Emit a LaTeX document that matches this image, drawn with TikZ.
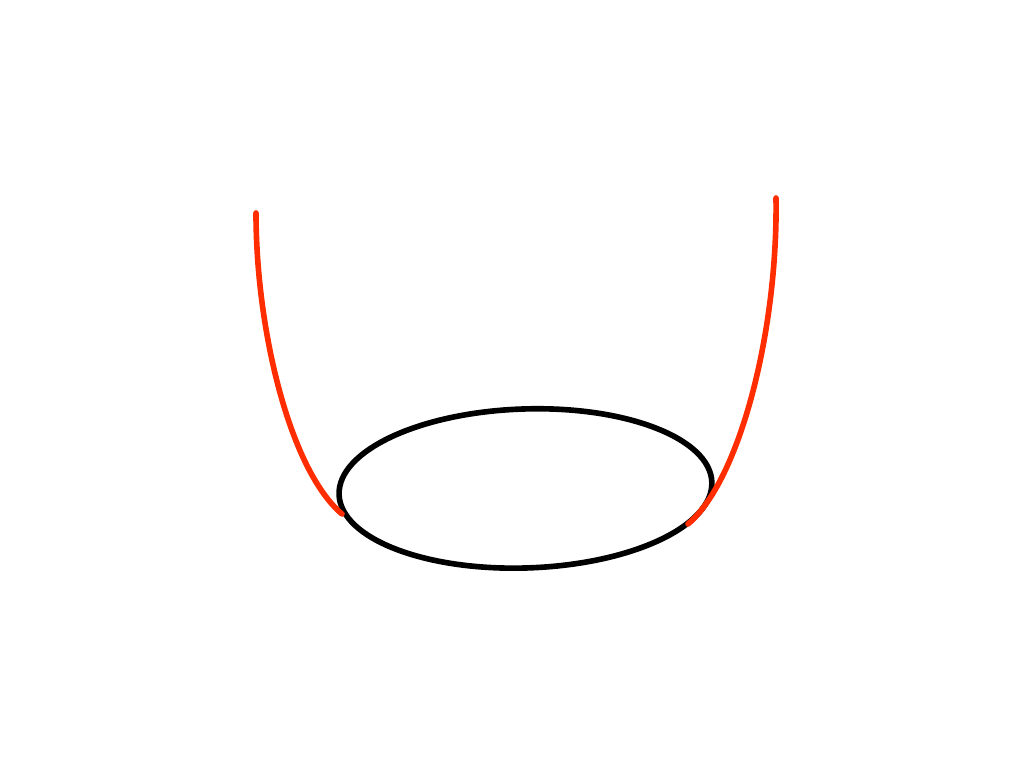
\documentclass[tikz,border=0pt]{standalone}
\usepackage{tikz}
\usepackage{xcolor}
\definecolor{curvered}{RGB}{255,45,0}

\begin{document}
\begin{tikzpicture}[x=0.01cm,y=-0.01cm]
  \useasboundingbox (0,0) rectangle (1024,768);
  \pgfmathsetmacro{\lw}{1.6}
  % ellipse in the middle
  \coordinate (c) at (525.5,488.5);
  \draw[black,line width=\lw pt,rotate around={1.9:(c)}] (c) ellipse (186.5 and 79.5);
  % the two red branches
  \coordinate (lt) at (256,213);
  \coordinate (le) at (342,514);
  \coordinate (rt) at (776,198);
  \coordinate (re) at (688,524);
  \draw[curvered,line width=\lw pt,line cap=round] (lt) .. controls (256,330) and (290,470) .. (le);
  \draw[curvered,line width=\lw pt,line cap=round] (rt) .. controls (778,330) and (740,480) .. (re);
\end{tikzpicture}
\end{document}
